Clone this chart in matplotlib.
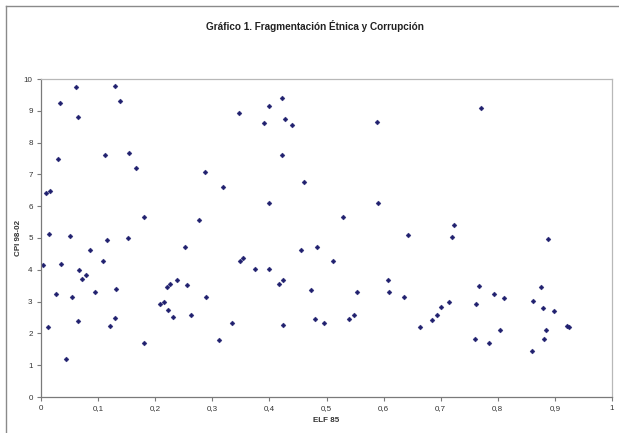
import matplotlib
matplotlib.use("Agg")
import matplotlib.pyplot as plt
from matplotlib.lines import Line2D
from matplotlib.ticker import FuncFormatter

plt.rcParams['font.family'] = ['Liberation Sans', 'DejaVu Sans']

elf85 = [0.008, 0.015, 0.014, 0.033, 0.029, 0.061, 0.064, 0.050, 0.112, 0.130,
         0.1375, 0.154, 0.167, 0.180, 0.115, 0.152, 0.003, 0.035, 0.026, 0.054,
         0.066, 0.072, 0.079, 0.085, 0.095, 0.108, 0.132, 0.129, 0.121, 0.064,
         0.012, 0.043, 0.181, 0.208, 0.215, 0.222, 0.220, 0.226, 0.238, 0.232,
         0.253, 0.256, 0.263,
         0.346, 0.399, 0.422, 0.391, 0.428, 0.439, 0.588, 0.422, 0.288, 0.319,
         0.461, 0.400, 0.591, 0.276, 0.529, 0.349, 0.353, 0.375, 0.400, 0.417,
         0.424, 0.456, 0.484, 0.511, 0.473, 0.480, 0.495, 0.424, 0.539, 0.549,
         0.553, 0.607, 0.610, 0.289, 0.335, 0.312,
         0.771, 0.724, 0.7205, 0.642, 0.888, 0.636, 0.663, 0.684, 0.694, 0.700,
         0.714, 0.767, 0.761, 0.760, 0.785, 0.794, 0.810, 0.8035, 0.862, 0.876,
         0.880, 0.898, 0.884, 0.881, 0.860, 0.922, 0.925]

cpi9802 = [6.43, 6.47, 5.12, 9.24, 7.48, 9.75, 8.81, 5.05, 7.62, 9.79,
           9.31, 7.66, 7.21, 5.67, 4.93, 5.00, 4.14, 4.19, 3.25, 3.13,
           3.99, 3.70, 3.85, 4.61, 3.30, 4.29, 3.40, 2.49, 2.23, 2.39,
           2.19, 1.21, 1.71, 2.91, 2.99, 2.73, 3.45, 3.54, 3.69, 2.52,
           4.72, 3.51, 2.57,
           8.93, 9.15, 9.40, 8.61, 8.74, 8.54, 8.66, 7.61, 7.08, 6.59,
           6.75, 6.11, 6.09, 5.57, 5.66, 4.29, 4.36, 4.04, 4.04, 3.54,
           3.69, 4.61, 4.72, 4.29, 3.38, 2.45, 2.34, 2.27, 2.45, 2.59,
           3.30, 3.67, 3.31, 3.16, 2.32, 1.79,
           9.10, 5.41, 5.02, 5.08, 4.96, 3.16, 2.19, 2.42, 2.57, 2.84,
           3.00, 3.49, 2.92, 1.83, 1.69, 3.24, 3.11, 2.10, 3.03, 3.47,
           2.80, 2.69, 2.10, 1.81, 1.46, 2.23, 2.20]

x_ticks = [0, 0.1, 0.2, 0.3, 0.4, 0.5, 0.6, 0.7, 0.8, 0.9, 1.0]
y_ticks = list(range(0, 11))

W, H = 619, 433
fig = plt.figure(figsize=(W / 100, H / 100), dpi=100)
fig.patch.set_facecolor('white')

# outer chart frame (left and top visible)
fig.add_artist(Line2D([5.5 / W, 5.5 / W], [0, 1 - 6 / H], transform=fig.transFigure,
                      color='#8a8a8a', lw=1.0))
fig.add_artist(Line2D([5.5 / W, 1], [1 - 6 / H, 1 - 6 / H], transform=fig.transFigure,
                      color='#8a8a8a', lw=1.0))

ax = fig.add_axes([41 / W, 1 - 397 / H, (612 - 41) / W, (397 - 79) / H])
ax.plot(elf85, cpi9802, linestyle='none', marker='D', markersize=2.5,
        color='#1f1f6e', markeredgewidth=0.3)

ax.set_xlim(0, 1)
ax.set_ylim(0, 10)
ax.set_xticks(x_ticks)
ax.set_yticks(y_ticks)


def fmt(v, pos):
    if abs(v - round(v)) < 1e-9:
        return str(int(round(v)))
    return ('%.1f' % v).replace('.', ',')


ax.xaxis.set_major_formatter(FuncFormatter(fmt))
ax.yaxis.set_major_formatter(FuncFormatter(fmt))

for s in ['left', 'bottom']:
    ax.spines[s].set_color('#7a7a7a')
    ax.spines[s].set_linewidth(0.9)
for s in ['top', 'right']:
    ax.spines[s].set_color('#b8b8b8')
    ax.spines[s].set_linewidth(0.9)

ax.tick_params(axis='both', direction='out', length=3, width=0.8, color='#7a7a7a',
               labelsize=5.8, labelcolor='#333333', pad=3)

ax.set_xlabel('ELF 85', fontsize=5.8, fontweight='bold', color='#333333', labelpad=3)
ax.set_ylabel('CPI 98-02', fontsize=5.8, fontweight='bold', color='#333333', labelpad=1)

fig.text(315 / W, 1 - 26 / H, 'Gráfico 1. Fragmentación Étnica y Corrupción',
         ha='center', va='center', fontsize=7.2, fontweight='bold', color='#222222')

fig.savefig('out.png', dpi=100)
